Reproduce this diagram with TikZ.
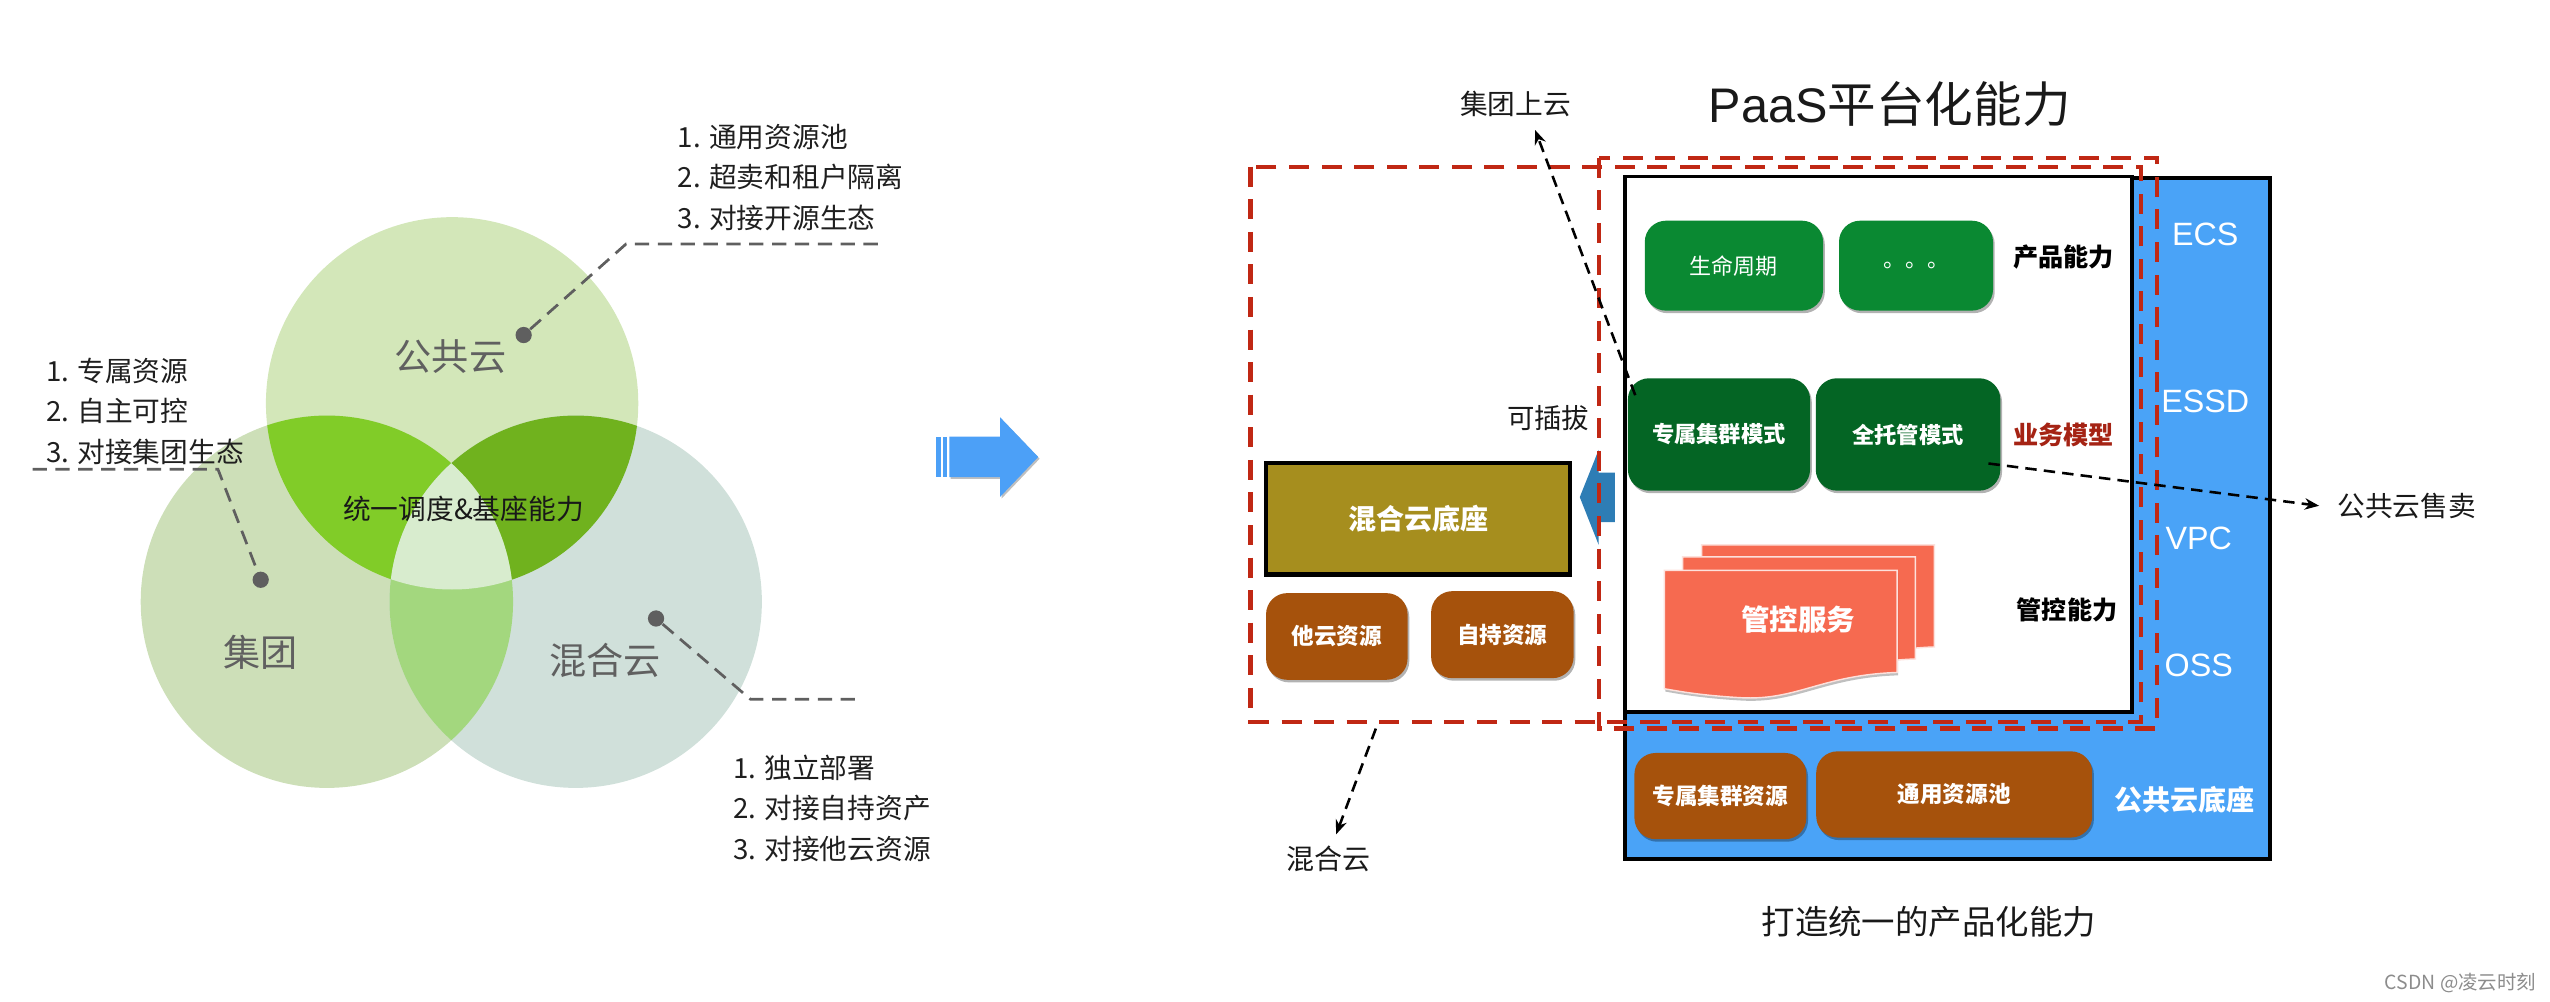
\documentclass[tikz,border=0pt]{standalone}
\usepackage{fontspec}
\setmainfont{Noto Sans CJK SC}
\newfontfamily\lat{Liberation Sans}
\usetikzlibrary{arrows.meta,shadows}

\definecolor{vT}{RGB}{211,231,185}
\definecolor{vL}{RGB}{205,223,184}
\definecolor{vR}{RGB}{208,224,218}
\definecolor{vTL}{RGB}{129,204,40}
\definecolor{vTR}{RGB}{112,178,30}
\definecolor{vLR}{RGB}{163,215,126}
\definecolor{vTLR}{RGB}{216,236,206}
\definecolor{leadgray}{RGB}{95,95,95}
\definecolor{labgray}{RGB}{96,96,96}
\definecolor{arrblue}{RGB}{76,160,247}
\definecolor{panelblue}{RGB}{74,163,247}
\definecolor{plugblue}{RGB}{46,125,181}
\definecolor{gA}{RGB}{10,137,50}
\definecolor{gB}{RGB}{4,101,36}
\definecolor{brownbox}{RGB}{166,82,12}
\definecolor{olivebox}{RGB}{166,142,30}
\definecolor{coralbox}{RGB}{246,106,80}
\definecolor{reddash}{RGB}{192,40,20}
\definecolor{bizred}{RGB}{165,35,20}

\newcommand\fsz[2]{\fontsize{#1}{#2}\selectfont}
\newcommand\mybox[7]{%
  \pgfmathsetmacro\mbcx{(#2+#4)/2}%
  \pgfmathsetmacro\mbcy{(#3+#5)/2}%
  \pgfmathsetmacro\mbw{abs(#4-#2)*0.02}%
  \pgfmathsetmacro\mbh{abs(#5-#3)*0.02}%
  \node[#6, minimum width=\mbw cm, minimum height=\mbh cm] (#1) at (\mbcx,\mbcy) {#7};}

\begin{document}
\begin{tikzpicture}[x=0.02cm,y=-0.02cm,
  lead/.style={leadgray, line width=0.95pt, dash pattern=on 5pt off 3pt},
  dot/.style={circle, fill=leadgray, inner sep=0pt, minimum size=0.2cm},
  listtxt/.style={anchor=west, align=left, inner sep=0pt, text=black!88, font=\fsz{9.7}{14.1}},
  vlab/.style={text=labgray, inner sep=0pt, font=\fsz{13}{15}},
  sh/.style={drop shadow={shadow xshift=0.6pt, shadow yshift=-0.9pt, opacity=0.3, fill=black}},
  gbox/.style={rounded corners=0.26cm, fill=gA, text=white, inner sep=0pt, font=\fsz{7.7}{9}, sh},
  dbox/.style={rounded corners=0.26cm, fill=gB, text=white, inner sep=0pt, font=\fsz{7.8}{9}\bfseries, sh},
  bbox/.style={rounded corners=0.26cm, fill=brownbox, text=white, inner sep=0pt, font=\fsz{7.9}{9}\bfseries, sh},
  obox/.style={fill=olivebox, draw=black, line width=1.6pt, text=white, inner sep=0pt, font=\fsz{9.8}{11}\bfseries, sh},
  sidelab/.style={inner sep=0pt, font=\fsz{8.8}{10}\bfseries},
  svc/.style={inner sep=0pt, text=white, font=\fsz{11.3}{13}\lat},
  reddashed/.style={reddash, line width=1.5pt, dash pattern=on 7pt off 4.4pt},
  darr/.style={black, line width=0.9pt, dash pattern=on 4pt off 2.5pt, -{Stealth[length=5pt,width=4pt]}},
  plain/.style={inner sep=0pt, text=black!90},
  coralshape/.style={fill=coralbox, draw=white!80!coralbox, line width=0.5pt}
]
\useasboundingbox (0,0) rectangle (1568,616);

% ---------------- Venn diagram ----------------
\def\CT{(278,248) circle[radius=2.29cm]}
\def\CL{(201,370) circle[radius=2.29cm]}
\def\CR{(354,370) circle[radius=2.29cm]}
\fill[vT] \CT;
\fill[vL] \CL;
\fill[vR] \CR;
\begin{scope}\clip \CT; \fill[vTL] \CL; \fill[vTR] \CR; \end{scope}
\begin{scope}\clip \CL; \fill[vLR] \CR; \end{scope}
\begin{scope}\clip \CT; \clip \CL; \fill[vTLR] \CR; \end{scope}

\node[vlab] (tpub) at (277,219) {公共云};
\node[vlab] (tgrp) at (160,401) {集团};
\node[vlab] (thyb) at (372,406) {混合云};
\node[plain, font=\fsz{9.7}{12}] (tcore) at (285,313) {统一调度\&基座能力};

% lead lines
\coordinate (cpub) at (385,150);
\coordinate (epub) at (540,150);
\node[dot] (dpub) at (322,206) {};
\draw[lead] (dpub) -- (cpub) -- (epub);

\coordinate (sgrp) at (20,288.5);
\coordinate (cgrp) at (134,288.5);
\node[dot] (dgrp) at (160.3,356.5) {};
\draw[lead] (sgrp) -- (cgrp) -- (dgrp);

\coordinate (chyb) at (461.5,430);
\coordinate (ehyb) at (530.6,430);
\node[dot] (dhyb) at (403.4,380.3) {};
\draw[lead] (dhyb) -- (chyb) -- (ehyb);

\node[listtxt] (lpub) at (416.5,109) {1. 通用资源池\\2. 超卖和租户隔离\\3. 对接开源生态};
\node[listtxt] (lgrp) at (28,253) {1. 专属资源\\2. 自主可控\\3. 对接集团生态};
\node[listtxt] (lhyb) at (450.5,497) {1. 独立部署\\2. 对接自持资产\\3. 对接他云资源};

% ---------------- middle arrow ----------------
\fill[arrblue] (575.6,268.5) rectangle (578.5,293.4);
\fill[arrblue] (579.7,268.5) rectangle (582.2,293.4);
\fill[arrblue, drop shadow={shadow xshift=0.5pt, shadow yshift=-0.6pt, opacity=0.25, fill=black}]
  (583.7,268.5) -- (615,268.5) -- (615,256.6) -- (638.4,281) -- (615,305.5) -- (615,293.4) -- (583.7,293.4) -- cycle;

% ---------------- right diagram ----------------
\fill[plugblue] (971.4,305.7) -- (983,276.6) -- (983,290.6) -- (993,290.6) -- (993,321) -- (983,321) -- (983,335) -- cycle;

\mybox{panel}{999}{109.5}{1395.7}{528}{draw=black, line width=1.3pt, fill=panelblue, sh}{}
\mybox{paas}{999}{108.6}{1311}{437.6}{draw=black, line width=1.3pt, fill=white}{}

\mybox{life}{1011.4}{135.7}{1121}{191}{gbox}{生命周期}
\mybox{more}{1130.8}{135.7}{1225.5}{191}{gbox}{。。。}
\mybox{dedmode}{1001}{232.6}{1113}{301.7}{dbox}{专属集群模式}
\mybox{fullmode}{1116.5}{232.6}{1230}{301.7}{dbox}{全托管模式}
\mybox{dedres}{1005}{463}{1110.7}{516}{bbox}{专属集群资源}
\mybox{pool}{1116.8}{462}{1286.5}{515}{bbox}{通用资源池}
\mybox{hybbase}{778.5}{284.6}{965.5}{353.2}{obox}{混合云底座}
\mybox{other}{778.5}{364.7}{865.5}{418}{bbox}{他云资源}
\mybox{own}{880}{363.5}{967.6}{417}{bbox}{自持资源}

% 管控服务 stacked document shape
\def\docpath{(1023.4,350.7) -- (1166.5,350.7) -- (1166.5,413.5) .. controls (1120,415) and (1105,431) .. (1070,429) .. controls (1045,427.5) and (1032,425) .. (1023.4,423.5) -- cycle}
\begin{scope}[shift={(22.9,-15.7)}] \path[coralshape] \docpath; \end{scope}
\begin{scope}[shift={(11.2,-8.3)}] \path[coralshape] \docpath; \end{scope}
\path[coralshape, drop shadow={shadow xshift=0.4pt, shadow yshift=-1pt, opacity=0.25, fill=black}] \docpath;
\node[inner sep=0pt, text=white, font=\fsz{10}{12}\bfseries] (mgmt) at (1105.7,381) {管控服务};

\node[sidelab] (lprod) at (1269,158) {产品能力};
\node[sidelab, text=bizred] (lbiz) at (1269,267.5) {业务模型};
\node[sidelab] (lctrl) at (1271,375) {管控能力};
\node[svc] (ecs) at (1356,144) {ECS};
\node[svc] (essd) at (1356,247) {ESSD};
\node[svc] (vpc) at (1352,331) {VPC};
\node[svc] (oss) at (1352,409) {OSS};
\node[inner sep=0pt, text=white, font=\fsz{9.8}{11}\bfseries] (pubbase) at (1343,492) {公共云底座};

% red dashed frames
\draw[reddashed] (769,102.5) rectangle (1316.7,444);
\draw[reddashed] (983,97) rectangle (1326.5,448);

% labels
\node[plain, font=\fsz{17}{20}] (title) at (1162,64) {{\lat PaaS}平台化能力};
\node[plain, font=\fsz{9.7}{11}] (tgrpup) at (932,64) {集团上云};
\node[plain, font=\fsz{9.6}{11}] (tplug) at (952,257) {可插拔};
\node[plain, font=\fsz{9.7}{11}, anchor=west] (tsell) at (1437,311) {公共云售卖};
\node[plain, font=\fsz{9.8}{11}] (thyb2) at (817,528) {混合云};
\node[plain, font=\fsz{11.7}{13}] (caption) at (1186,567) {打造统一的产品化能力};
\node[inner sep=0pt, text=black!45, font=\fsz{6.8}{8}] (wm) at (1513,604.6) {CSDN @凌云时刻};

% dashed arrows
\coordinate (upstart) at (1005.5,243);
\coordinate (upend) at (944,80);
\draw[darr] (upstart) -- (upend);
\coordinate (sellstart) at (1222.7,285);
\coordinate (sellend) at (1426,311);
\draw[darr] (sellstart) -- (sellend);
\coordinate (hybstart) at (846,448);
\coordinate (hybend) at (821.6,513);
\draw[darr] (hybstart) -- (hybend);
\end{tikzpicture}
\end{document}
